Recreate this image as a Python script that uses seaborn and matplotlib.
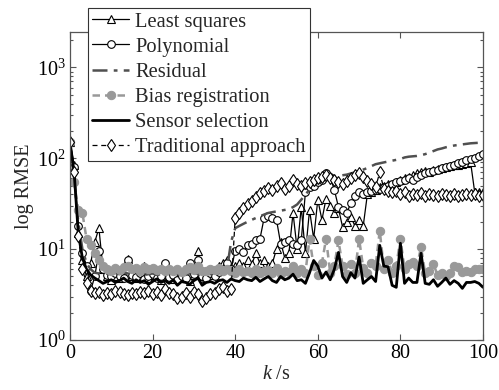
import numpy as np
import pandas as pd
import matplotlib
matplotlib.use("Agg")
import matplotlib.pyplot as plt
import seaborn as sns

k = list(range(0, 101))

least_squares = [150, 85, 15, 7.5, 5.0, 7, 12, 17, 6, 5.0,
                 4.6, 5.0, 4.8, 5.2, 7.8, 5.0, 4.8, 5.0, 6.5, 4.8,
                 5.2, 5.0, 4.6, 5.3, 5.0, 4.7, 5.5, 4.8, 5.0, 4.5,
                 5.2, 9.5, 5.0, 4.8, 5.2, 5.5, 6.5, 7.0, 7.5, 6.0,
                 6.5, 7.0, 6.5, 7.5, 6.8, 9.0, 7.0, 7.5, 6.5, 7.0,
                 10, 12, 8, 9, 25, 10, 29, 9, 27, 13,
                 35, 21, 36, 30, 25, 28, 17.5, 20, 22.5, 18,
                 21, 18, 40, 42, 45, 48, 50, 52, 50, 55,
                 58, 60, 62, 65, 68, 70, 72, 70, 74, 76,
                 78, 80, 82, 84, 85, 87, 88, 90, 42, 43, 42]

polynomial = [150, 80, 18, 9, 6.5, 3.5, 5, 9.5, 6, 5.2,
              5.0, 5.5, 5.0, 4.8, 7.5, 5.2, 4.9, 5.5, 4.7, 5.0,
              5.3, 4.8, 5.1, 7.0, 4.9, 5.2, 4.6, 5.0, 4.8, 7.0,
              5.3, 7.5, 5.0, 4.8, 5.4, 5.0, 5.6, 6.0, 7.0, 6.0,
              9.5, 10, 9.3, 11, 11.5, 12.5, 13, 22, 23, 22,
              21, 11.5, 12, 12.5, 11.5, 11, 12.5, 42, 48, 50,
              55, 58, 68, 62, 45, 29, 27, 25, 32, 38,
              42, 40, 42, 44, 45, 46, 48, 50, 52, 55,
              56, 58, 60, 58, 62, 65, 68, 70, 72, 75,
              78, 80, 82, 85, 88, 92, 95, 98, 100, 105, 110]

residual = [150, 60, 20, 10, 7, 6, 5.5, 5.4, 5.3, 5.4,
            5.2, 5.4, 5.3, 5.5, 5.4, 5.2, 5.3, 5.4, 5.2, 5.3,
            5.4, 5.2, 5.3, 5.5, 5.3, 5.2, 5.4, 5.3, 5.2, 5.4,
            5.5, 5.3, 5.2, 5.4, 5.3, 5.5, 5.4, 5.6, 6.0, 12,
            17, 18, 19, 20, 21, 22, 23, 24, 25, 25.5,
            26, 26.5, 27, 27.5, 29, 31, 35, 40, 45, 50,
            54, 56, 58, 60, 62, 64, 65, 66, 68, 70,
            72, 75, 78, 82, 86, 88, 90, 92, 94, 96,
            98, 102, 104, 105, 106, 108, 111, 115, 120, 125,
            128, 132, 135, 138, 140, 142, 144, 146, 147, 148, 150]

bias_registration = [150, 55, 27, 25, 13, 11, 9, 7.5, 6.5, 6,
                     5.8, 6.2, 5.9, 6.3, 6.5, 6.0, 6.2, 5.8, 6.4, 6.0,
                     6.2, 5.9, 6.1, 5.7, 6.0, 5.8, 6.1, 5.6, 6.0, 6.3,
                     5.9, 6.6, 5.8, 5.7, 6.0, 5.9, 6.2, 5.8, 6.1, 5.7,
                     5.5, 6.0, 5.6, 5.8, 5.4, 6.0, 5.5, 5.7, 5.9, 5.5,
                     6.2, 5.3, 5.8, 5.6, 6.5, 5.4, 6.0, 5.5, 13, 6.5,
                     5.2, 7, 13, 5.5, 6.5, 12.5, 6.5, 5.3, 6.8, 5.5,
                     13, 6.2, 5.5, 7, 6.5, 16, 6.0, 7.5, 5.5, 6.5,
                     13, 6.0, 6.8, 7.2, 6.5, 10.5, 5.4, 5.8, 6.8, 5.2,
                     5.5, 5.0, 5.4, 6.5, 6.3, 5.6, 5.8, 5.6, 6.0, 6.0, 6.0]

sensor_selection = [150, 70, 15, 8, 6, 5.2, 4.8, 4.5, 4.2, 4.4,
                    4.6, 4.3, 4.5, 4.8, 4.4, 4.2, 4.6, 4.3, 4.5, 4.1,
                    4.4, 4.7, 4.3, 4.5, 4.2, 4.6, 4.0, 4.4, 4.3, 4.1,
                    4.5, 4.8, 4.0, 4.3, 4.4, 4.2, 4.5, 4.6, 4.3, 4.7,
                    4.5, 4.4, 4.8, 4.6, 4.5, 4.9, 4.4, 4.7, 5.0, 4.5,
                    4.3, 5.0, 4.6, 4.8, 5.3, 4.5, 4.6, 4.2, 5.5, 7.5,
                    6.5, 4.8, 5.6, 4.6, 6.0, 9.2, 5.0, 4.3, 5.5, 4.8,
                    8.2, 4.2, 4.6, 5.0, 4.4, 11.0, 6.5, 6.4, 4.0, 3.8,
                    11.6, 4.2, 4.8, 4.3, 4.3, 9.0, 4.2, 4.1, 4.6, 3.9,
                    4.3, 4.8, 4.1, 4.5, 4.2, 3.7, 4.3, 4.3, 4.4, 4.2, 3.8]

traditional = [150, 70, 14, 6, 4.2, 3.5, 3.3, 3.4, 3.1, 3.3,
               3.2, 3.5, 3.4, 3.2, 3.1, 3.3, 3.2, 3.4, 3.3, 3.5,
               3.2, 3.4, 3.1, 3.6, 3.3, 3.2, 2.9, 3.0, 3.3, 3.0,
               3.4, 3.2, 2.7, 2.9, 3.2, 3.3, 3.6, 3.8, 3.5, 3.6,
               22, 25, 28, 31, 34, 37, 41, 44, 47, 45,
               50, 54, 46, 50, 57, 52, 50, 53, 55, 58,
               60, 62, 65, 60, 58, 55, 52, 56, 60, 65,
               68, 62, 56, 52, 48, 70, 46, 44, 42, 44,
               40, 42, 38, 40, 39, 41, 38, 40, 39, 38,
               40, 39, 38, 40, 38, 39, 40, 39, 40, 38, 39]

labels = ["Least squares", "Polynomial", "Residual", "Bias registration",
          "Sensor selection", "Traditional approach"]

sns.set_style("ticks")
plt.rcParams["font.family"] = ["Liberation Serif", "DejaVu Serif"]
plt.rcParams["mathtext.fontset"] = "custom"
plt.rcParams["mathtext.rm"] = "Liberation Serif"
plt.rcParams["mathtext.it"] = "Liberation Serif:italic"
plt.rcParams["axes.edgecolor"] = "#555555"
plt.rcParams["xtick.color"] = "#555555"
plt.rcParams["ytick.color"] = "#555555"
plt.rcParams["xtick.labelcolor"] = "black"
plt.rcParams["ytick.labelcolor"] = "black"

fig = plt.figure(figsize=(4.99, 3.90), dpi=100)
ax = fig.add_axes([70 / 499, 50 / 390, 413 / 499, 308 / 390])

df = pd.DataFrame({"k": k, "ls": least_squares, "po": polynomial, "rs": residual,
                   "br": bias_registration, "ss": sensor_selection, "tr": traditional})

sns.lineplot(data=df, x="k", y="ls", ax=ax, color="black", linewidth=0.9,
             marker="^", markersize=6, markerfacecolor="white",
             markeredgecolor="black", markeredgewidth=0.8, label=labels[0])
sns.lineplot(data=df, x="k", y="po", ax=ax, color="black", linewidth=0.9,
             marker="o", markersize=5.5, markerfacecolor="white",
             markeredgecolor="black", markeredgewidth=0.8, label=labels[1])
sns.lineplot(data=df, x="k", y="rs", ax=ax, color="#505050", linewidth=1.8,
             linestyle=(0, (6, 2.5, 1.5, 2.5)), label=labels[2])
sns.lineplot(data=df, x="k", y="br", ax=ax, color="#999999", linewidth=1.8,
             linestyle=(0, (3, 2)), marker="o", markersize=6,
             markerfacecolor="#999999", markeredgecolor="#999999", label=labels[3])
sns.lineplot(data=df, x="k", y="ss", ax=ax, color="black", linewidth=2.0,
             label=labels[4])
sns.lineplot(data=df, x="k", y="tr", ax=ax, color="black", linewidth=0.9,
             linestyle=(0, (4, 3)), marker="d", markersize=6.5,
             markerfacecolor="white", markeredgecolor="black",
             markeredgewidth=0.8, label=labels[5])

ax.set_yscale("log")
ax.set_xlim(0, 100)
ax.set_ylim(1, 2450)
ax.set_xticks([0, 20, 40, 60, 80, 100])
ax.tick_params(axis="both", which="both", direction="in", top=True, right=True,
               labelsize=14.5, width=0.8)
ax.tick_params(axis="both", which="major", length=4, pad=3)
ax.tick_params(axis="both", which="minor", length=2.5)
ax.set_xlabel(r"$k$ /s", fontsize=14.5, labelpad=1)
ax.set_ylabel("log RMSE", fontsize=14.5, labelpad=2)
for s in ax.spines.values():
    s.set_linewidth(0.9)

leg = ax.legend(loc="upper left", bbox_to_anchor=(88 / 499, 1 - 8 / 390),
                bbox_transform=fig.transFigure, fontsize=14.8, frameon=True,
                fancybox=False, edgecolor="#333333", framealpha=1,
                handlelength=1.8, handletextpad=0.3, labelspacing=0.28,
                borderpad=0.2, borderaxespad=0)
leg.get_frame().set_linewidth(0.8)
leg.set_zorder(10)

fig.savefig("out.png", dpi=100)
